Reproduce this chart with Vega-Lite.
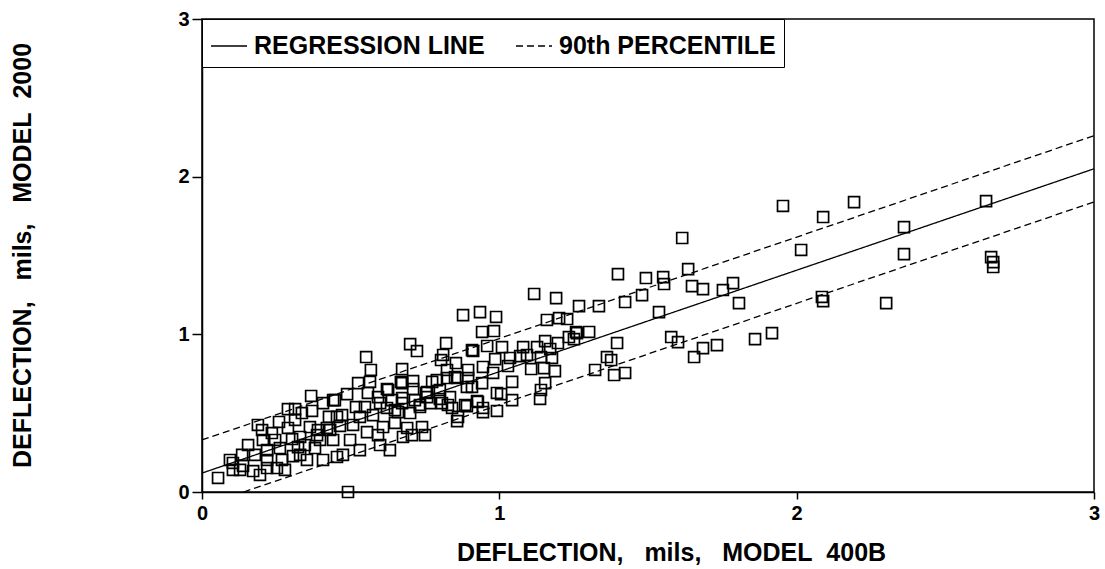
{
  "$schema": "https://vega.github.io/schema/vega-lite/v6.json",
  "width": 892,
  "height": 473,
  "autosize": {"type": "none"},
  "padding": {"left": 202, "top": 19, "right": 11, "bottom": 77},
  "background": "white",
  "config": {
    "font": "Liberation Sans",
    "view": {"stroke": "black", "strokeWidth": 1.5},
    "axis": {
      "domainColor": "black", "domainWidth": 1.5, "tickColor": "black", "tickWidth": 1.5,
      "labelColor": "black", "labelFont": "Liberation Sans", "labelFontWeight": "bold", "labelFontSize": 20,
      "titleColor": "black", "titleFont": "Liberation Sans", "titleFontWeight": "bold", "titleFontSize": 25,
      "grid": false
    }
  },
  "datasets": {
    "lines": [
      {"series": "REGRESSION LINE", "line": "reg", "x": 0, "y": 0.12},
      {"series": "REGRESSION LINE", "line": "reg", "x": 3, "y": 2.05},
      {"series": "90th PERCENTILE", "line": "upper", "x": 0, "y": 0.33},
      {"series": "90th PERCENTILE", "line": "upper", "x": 3, "y": 2.26},
      {"series": "90th PERCENTILE", "line": "lower", "x": 0.14, "y": 0.0},
      {"series": "90th PERCENTILE", "line": "lower", "x": 3, "y": 1.84}
    ],
    "points": [
      {"x":1.954,"y":1.814},{"x":2.089,"y":1.744},{"x":2.193,"y":1.839},{"x":2.015,"y":1.535},{"x":2.361,"y":1.680},
      {"x":2.637,"y":1.845},{"x":2.361,"y":1.509},{"x":2.654,"y":1.490},{"x":2.661,"y":1.427},{"x":2.661,"y":1.458},
      {"x":2.085,"y":1.237},{"x":2.089,"y":1.211},{"x":2.301,"y":1.198},{"x":1.917,"y":1.008},{"x":1.860,"y":0.970},
      {"x":1.615,"y":1.611},{"x":1.399,"y":1.382},{"x":1.493,"y":1.357},{"x":1.551,"y":1.363},{"x":1.554,"y":1.319},
      {"x":1.635,"y":1.414},{"x":1.648,"y":1.306},{"x":1.685,"y":1.287},{"x":1.752,"y":1.281},{"x":1.786,"y":1.325},
      {"x":1.806,"y":1.198},{"x":1.480,"y":1.249},{"x":1.423,"y":1.205},{"x":1.335,"y":1.179},{"x":1.268,"y":1.179},
      {"x":1.228,"y":1.097},{"x":1.537,"y":1.141},{"x":1.258,"y":1.015},{"x":1.302,"y":1.015},{"x":1.251,"y":0.970},
      {"x":1.396,"y":0.945},{"x":1.578,"y":0.983},{"x":1.601,"y":0.951},{"x":1.685,"y":0.913},{"x":1.732,"y":0.932},
      {"x":1.655,"y":0.856},{"x":1.362,"y":0.856},{"x":1.376,"y":0.837},{"x":1.322,"y":0.774},{"x":1.386,"y":0.742},
      {"x":1.423,"y":0.755},{"x":1.117,"y":1.256},{"x":1.191,"y":1.230},{"x":0.878,"y":1.122},{"x":0.935,"y":1.141},
      {"x":0.989,"y":1.110},{"x":1.160,"y":1.091},{"x":1.201,"y":1.103},{"x":0.942,"y":1.015},{"x":0.982,"y":1.021},
      {"x":1.261,"y":1.008},{"x":0.959,"y":0.926},{"x":1.009,"y":0.919},{"x":1.080,"y":0.919},{"x":1.127,"y":0.919},
      {"x":1.154,"y":0.957},{"x":1.171,"y":0.907},{"x":1.197,"y":0.945},{"x":1.234,"y":0.983},{"x":0.986,"y":0.843},
      {"x":1.036,"y":0.850},{"x":1.070,"y":0.862},{"x":1.093,"y":0.869},{"x":1.140,"y":0.856},{"x":1.177,"y":0.850},
      {"x":0.945,"y":0.793},{"x":1.029,"y":0.799},{"x":1.107,"y":0.780},{"x":1.150,"y":0.786},{"x":1.187,"y":0.767},
      {"x":0.979,"y":0.755},{"x":1.043,"y":0.698},{"x":1.154,"y":0.691},{"x":0.942,"y":0.691},{"x":1.137,"y":0.590},
      {"x":1.140,"y":0.647},{"x":1.006,"y":0.621},{"x":0.992,"y":0.514},{"x":0.945,"y":0.507},{"x":0.891,"y":0.545},
      {"x":0.925,"y":0.577},{"x":0.858,"y":0.450},{"x":0.908,"y":0.666},{"x":0.912,"y":0.894},{"x":0.854,"y":0.818},
      {"x":0.895,"y":0.774},{"x":0.851,"y":0.729},{"x":0.700,"y":0.938},{"x":0.723,"y":0.894},{"x":0.821,"y":0.945},
      {"x":0.811,"y":0.869},{"x":0.804,"y":0.837},{"x":0.673,"y":0.780},{"x":0.824,"y":0.774},{"x":0.908,"y":0.900},
      {"x":0.895,"y":0.723},{"x":0.858,"y":0.723},{"x":0.824,"y":0.723},{"x":0.790,"y":0.710},{"x":0.710,"y":0.704},
      {"x":0.669,"y":0.698},{"x":0.622,"y":0.653},{"x":0.710,"y":0.653},{"x":0.757,"y":0.634},{"x":0.800,"y":0.647},
      {"x":0.774,"y":0.698},{"x":0.639,"y":0.583},{"x":0.673,"y":0.596},{"x":0.716,"y":0.583},{"x":0.757,"y":0.602},
      {"x":0.800,"y":0.590},{"x":0.834,"y":0.602},{"x":0.827,"y":0.552},{"x":0.807,"y":0.564},{"x":0.767,"y":0.564},
      {"x":0.733,"y":0.552},{"x":0.622,"y":0.533},{"x":0.659,"y":0.507},{"x":0.841,"y":0.533},{"x":0.885,"y":0.552},
      {"x":0.928,"y":0.571},{"x":0.891,"y":0.666},{"x":0.992,"y":0.628},{"x":1.043,"y":0.583},{"x":0.861,"y":0.476},
      {"x":0.945,"y":0.533},{"x":0.552,"y":0.856},{"x":0.568,"y":0.774},{"x":0.525,"y":0.691},{"x":0.565,"y":0.698},
      {"x":0.673,"y":0.691},{"x":0.753,"y":0.628},{"x":0.626,"y":0.647},{"x":0.592,"y":0.602},{"x":0.558,"y":0.628},
      {"x":0.488,"y":0.621},{"x":0.447,"y":0.583},{"x":0.407,"y":0.564},{"x":0.367,"y":0.609},{"x":0.313,"y":0.526},
      {"x":0.370,"y":0.514},{"x":0.518,"y":0.539},{"x":0.548,"y":0.539},{"x":0.599,"y":0.564},{"x":0.673,"y":0.564},
      {"x":0.649,"y":0.520},{"x":0.700,"y":0.501},{"x":0.733,"y":0.539},{"x":0.471,"y":0.488},{"x":0.427,"y":0.476},
      {"x":0.531,"y":0.476},{"x":0.575,"y":0.488},{"x":0.313,"y":0.457},{"x":0.363,"y":0.412},{"x":0.420,"y":0.406},
      {"x":0.464,"y":0.419},{"x":0.508,"y":0.425},{"x":0.555,"y":0.380},{"x":0.609,"y":0.412},{"x":0.649,"y":0.438},
      {"x":0.690,"y":0.406},{"x":0.740,"y":0.412},{"x":0.330,"y":0.349},{"x":0.387,"y":0.361},{"x":0.592,"y":0.361},
      {"x":0.750,"y":0.361},{"x":0.289,"y":0.526},{"x":0.259,"y":0.444},{"x":0.289,"y":0.406},{"x":0.336,"y":0.501},
      {"x":0.441,"y":0.583},{"x":0.454,"y":0.476},{"x":0.390,"y":0.393},{"x":0.431,"y":0.393},{"x":0.235,"y":0.374},
      {"x":0.205,"y":0.330},{"x":0.246,"y":0.330},{"x":0.303,"y":0.336},{"x":0.346,"y":0.298},{"x":0.397,"y":0.330},
      {"x":0.441,"y":0.330},{"x":0.219,"y":0.266},{"x":0.262,"y":0.279},{"x":0.178,"y":0.235},{"x":0.135,"y":0.235},
      {"x":0.219,"y":0.203},{"x":0.269,"y":0.203},{"x":0.306,"y":0.228},{"x":0.353,"y":0.203},{"x":0.407,"y":0.203},
      {"x":0.104,"y":0.184},{"x":0.138,"y":0.165},{"x":0.172,"y":0.133},{"x":0.104,"y":0.140},{"x":0.219,"y":0.152},
      {"x":0.252,"y":0.152},{"x":0.054,"y":0.089},{"x":0.323,"y":0.285},{"x":0.380,"y":0.279},{"x":0.454,"y":0.222},
      {"x":0.491,"y":0.000},{"x":0.474,"y":0.235},{"x":0.599,"y":0.298},{"x":0.676,"y":0.349},{"x":0.706,"y":0.361},
      {"x":0.632,"y":0.266},{"x":0.531,"y":0.266},{"x":0.498,"y":0.330},{"x":0.188,"y":0.425},{"x":0.202,"y":0.393},
      {"x":0.155,"y":0.298},{"x":0.094,"y":0.203},{"x":0.128,"y":0.140},{"x":0.195,"y":0.108},{"x":0.279,"y":0.140},
      {"x":0.330,"y":0.235}
    ]
  },
  "layer": [
    {
      "data": {"name": "lines"},
      "mark": {"type": "line", "color": "black", "strokeWidth": 1.3},
      "encoding": {
        "x": {
          "field": "x", "type": "quantitative",
          "scale": {"domain": [0, 3], "nice": false, "zero": false},
          "axis": {
            "values": [0, 1, 2, 3], "format": "d", "tickSize": 7, "labelPadding": 4, "labelFlush": false,
            "title": "DEFLECTION,\u00a0\u00a0\u00a0mils,\u00a0\u00a0\u00a0MODEL\u00a0\u00a0400B",
            "titleX": 469, "titleY": 68, "titleAlign": "center", "titleBaseline": "alphabetic"
          }
        },
        "y": {
          "field": "y", "type": "quantitative",
          "scale": {"domain": [0, 3], "nice": false, "zero": false},
          "axis": {
            "values": [0, 1, 2, 3], "format": "d", "tickSize": 10, "labelPadding": 3, "labelFlush": false,
            "title": "DEFLECTION,\u00a0\u00a0\u00a0mils,\u00a0\u00a0\u00a0MODEL\u00a0\u00a02000",
            "titleX": -180, "titleY": 236, "titleAngle": 270, "titleAlign": "center", "titleBaseline": "middle"
          }
        },
        "detail": {"field": "line"},
        "strokeDash": {
          "field": "series", "type": "nominal",
          "scale": {"domain": ["REGRESSION LINE", "90th PERCENTILE"], "range": [[1, 0], [7, 4]]},
          "legend": {
            "orient": "top-left", "offset": 0, "direction": "horizontal", "title": null,
            "strokeColor": "black", "fillColor": "white", "padding": 8,
            "labelFontSize": 25, "labelFontWeight": "bold", "labelColor": "black", "labelFont": "Liberation Sans",
            "labelLimit": 500,
            "symbolType": "stroke", "symbolSize": 1296, "symbolStrokeColor": "black", "symbolStrokeWidth": 1.3,
            "labelOffset": 6, "columnPadding": 28
          }
        }
      }
    },
    {
      "data": {"name": "points"},
      "mark": {"type": "point", "shape": "square", "filled": false, "color": "black", "size": 120, "strokeWidth": 1.7, "opacity": 1},
      "encoding": {
        "x": {"field": "x", "type": "quantitative"},
        "y": {"field": "y", "type": "quantitative"}
      }
    }
  ]
}
